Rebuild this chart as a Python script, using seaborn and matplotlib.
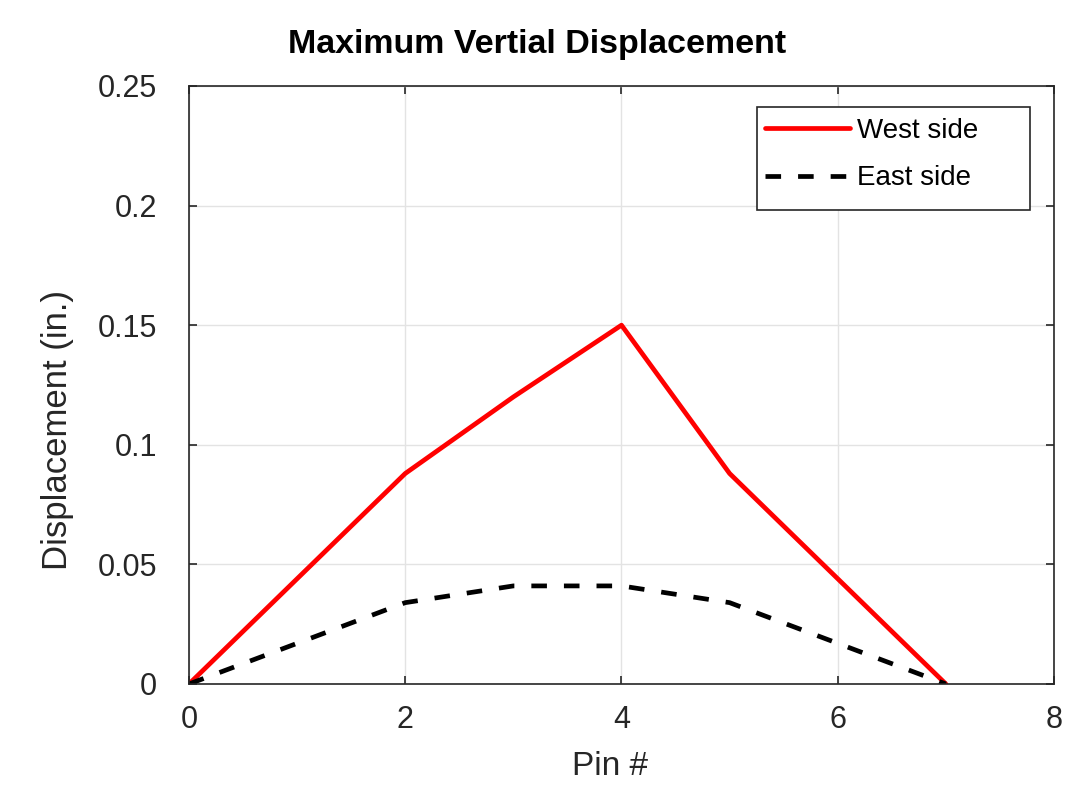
import matplotlib
matplotlib.use("Agg")
import matplotlib.pyplot as plt
import matplotlib.patches as mpatches
import pandas as pd
import seaborn as sns

pins = [0, 1, 2, 3, 4, 5, 6, 7]
west_side = [0, 0.044, 0.088, 0.12, 0.15, 0.088, 0.044, 0]
east_side = [0, 0.017, 0.034, 0.041, 0.041, 0.034, 0.017, 0]

sns.set_style("whitegrid")
plt.rcParams['font.family'] = ['Liberation Sans', 'DejaVu Sans']

df = pd.DataFrame({"Pin": pins, "West side": west_side, "East side": east_side})

fig = plt.figure(figsize=(10.85, 7.88), dpi=100)
ax = fig.add_axes([0.1742, 0.132, 0.7972, 0.7589])

sns.lineplot(data=df, x="Pin", y="West side", ax=ax, color="#ff0000",
             linewidth=3.4, label="West side")
sns.lineplot(data=df, x="Pin", y="East side", ax=ax, color="black",
             linewidth=3.4, linestyle=(0, (3.3, 3.6)), label="East side")

ax.set_xlim(0, 8)
ax.set_ylim(0, 0.25)
ax.set_xticks([0, 2, 4, 6, 8])
ax.set_yticks([0, 0.05, 0.1, 0.15, 0.2, 0.25])
ax.set_yticklabels(["0", "0.05", "0.1", "0.15", "0.2", "0.25"])
ax.grid(True, color="#e3e3e3", linewidth=1)
for s in ax.spines.values():
    s.set_visible(True)
    s.set_color("#262626")
    s.set_linewidth(1.2)
ax.tick_params(direction="in", length=6, width=1.2, color="#262626",
               labelsize=22, labelcolor="#262626", top=True, right=True,
               bottom=True, left=True)
ax.tick_params(axis="y", pad=23)
ax.tick_params(axis="x", pad=15)
ax.set_xlabel("Pin #", fontsize=24, color="#262626")
ax.set_ylabel("Displacement (in.)", fontsize=25, color="#262626")
ax.xaxis.set_label_coords(0.487, -0.112)
ax.yaxis.set_label_coords(-0.133, 0.425)

fig.text(0.495, 0.943, "Maximum Vertial Displacement", fontsize=24.5,
         fontweight="bold", ha="center", va="center", color="black")

# legend without its own frame, box drawn separately (wide right margin)
leg = ax.legend(loc="upper left", bbox_to_anchor=(0.6659, 0.9464),
                borderaxespad=0, borderpad=0, fontsize=20, frameon=False,
                handlelength=3.05, handletextpad=0.25, labelspacing=0.77)
for t in leg.get_texts():
    t.set_color("black")
box = mpatches.Rectangle((0.6566, 0.7926), 0.3156, 0.1722,
                         transform=ax.transAxes, facecolor="white",
                         edgecolor="#262626", linewidth=1.2, zorder=4.9)
ax.add_patch(box)
leg.set_zorder(5)

fig.savefig("out.png", dpi=100)
